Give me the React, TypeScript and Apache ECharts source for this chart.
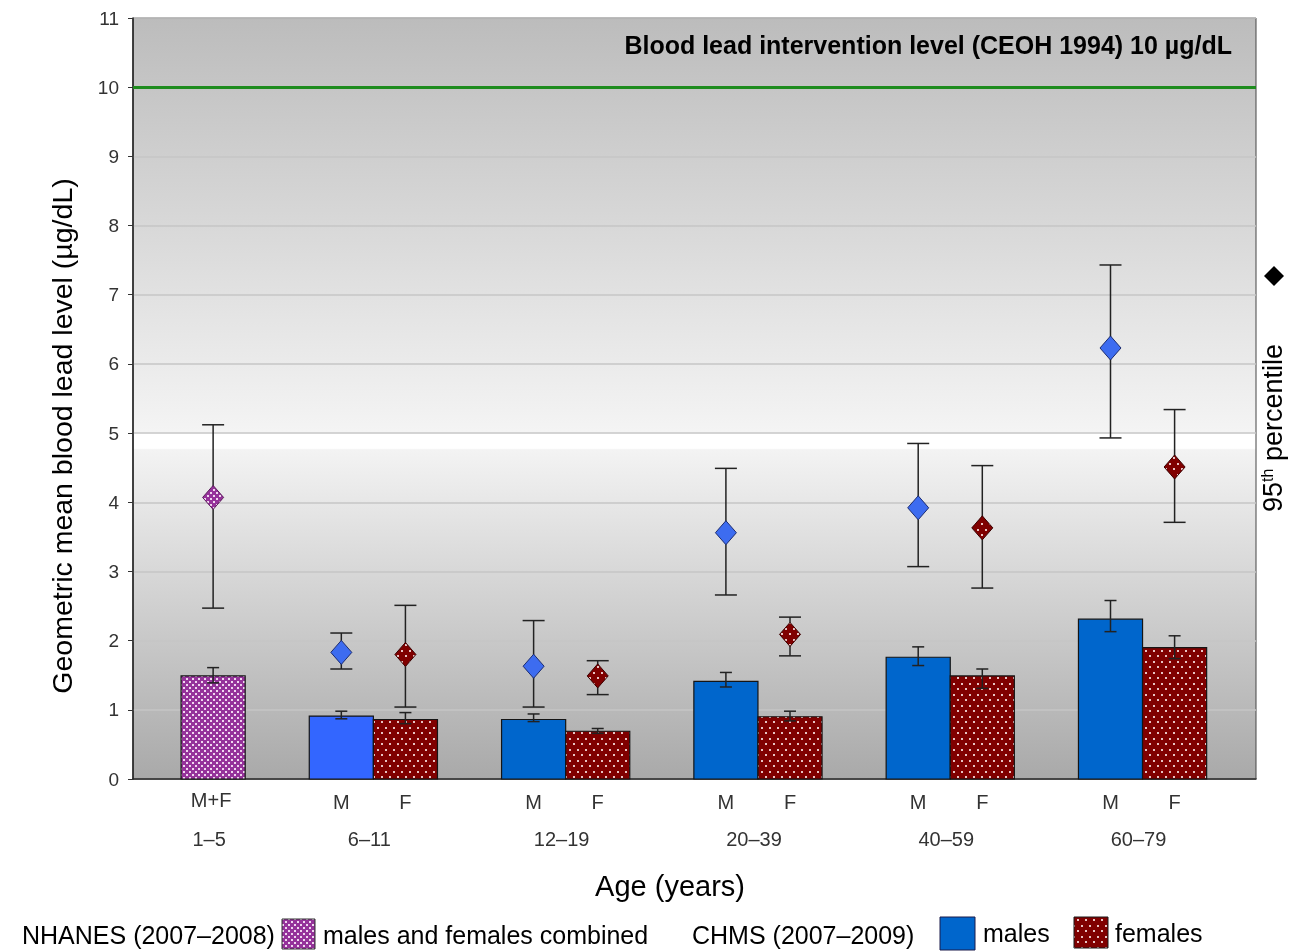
import React, { useEffect, useRef } from 'react';
import * as echarts from 'echarts';

// ---- data ----
const ageGroups = ['1–5', '6–11', '12–19', '20–39', '40–59', '60–79'];
const combinedLabel = 'M+F';
const sexLabels = ['M', 'F'];
const interventionLevel = 10;
const interventionText = 'Blood lead intervention level (CEOH 1994) 10 µg/dL';
const yTitle = 'Geometric mean blood lead level (µg/dL)';
const xTitle = 'Age (years)';

// NHANES 2007–2008, ages 1–5, males and females combined
const combinedGM = [1.49];
const combinedGMLow = [1.39];
const combinedGMHigh = [1.61];
const combinedP95 = [4.07];
const combinedP95Low = [2.47];
const combinedP95High = [5.12];

// CHMS 2007–2009, age groups 6–11 … 60–79
const maleGM = [0.91, 0.86, 1.41, 1.76, 2.31];
const maleGMLow = [0.87, 0.83, 1.33, 1.64, 2.13];
const maleGMHigh = [0.98, 0.94, 1.54, 1.91, 2.58];
const femaleGM = [0.86, 0.69, 0.9, 1.49, 1.9];
const femaleGMLow = [0.8, 0.66, 0.84, 1.31, 1.74];
const femaleGMHigh = [0.96, 0.73, 0.98, 1.59, 2.07];

const maleP95 = [1.83, 1.63, 3.56, 3.92, 6.23];
const maleP95Low = [1.59, 1.04, 2.66, 3.07, 4.93];
const maleP95High = [2.11, 2.29, 4.49, 4.85, 7.43];
const femaleP95 = [1.8, 1.49, 2.09, 3.63, 4.51];
const femaleP95Low = [1.04, 1.22, 1.78, 2.76, 3.71];
const femaleP95High = [2.51, 1.71, 2.34, 4.53, 5.34];

const FONT = '"Liberation Sans", Arial, Helvetica, sans-serif';
const SLOT = 1 / 6;

function makePattern(w: number, h: number, base: string, dots: number[][], size: number, dotColor: string) {
  const c = document.createElement('canvas');
  c.width = w;
  c.height = h;
  const ctx = c.getContext('2d')!;
  ctx.fillStyle = base;
  ctx.fillRect(0, 0, w, h);
  ctx.fillStyle = dotColor;
  dots.forEach(([x, y]) => ctx.fillRect(x, y, size, size));
  return { image: c.toDataURL(), repeat: 'repeat', imageWidth: w, imageHeight: h } as any;
}

export default function App() {
  const ref = useRef<HTMLDivElement>(null);

  useEffect(() => {
    const chart = echarts.init(ref.current!, null, { renderer: 'svg' });

    const femaleFill = makePattern(8, 11, '#800000', [[1, 1], [5, 6]], 2, '#e8c4c4');
    const combinedFill = makePattern(6, 6, '#95329a', [[0, 0], [3, 3]], 2, '#efd6ef');
    const maleFill = (i: number) => (i === 0 ? '#3366ff' : '#0066cc');

    const barRender = (fill: (i: number) => any) => (params: any, api: any) => {
      const x = api.value(0);
      const v = api.value(1);
      const lo = api.value(2);
      const hi = api.value(3);
      const tl = api.coord([x - SLOT, v]);
      const br = api.coord([x + SLOT, 0]);
      const pl = api.coord([x, lo]);
      const ph = api.coord([x, hi]);
      const cw = 6;
      const es = { stroke: '#222', lineWidth: 1.5 };
      return {
        type: 'group',
        children: [
          {
            type: 'rect',
            shape: { x: tl[0], y: tl[1], width: br[0] - tl[0], height: br[1] - tl[1] },
            style: { fill: fill(params.dataIndex), stroke: '#151515', lineWidth: 1.2 },
          },
          { type: 'line', shape: { x1: pl[0], y1: pl[1], x2: ph[0], y2: ph[1] }, style: es },
          { type: 'line', shape: { x1: pl[0] - cw, y1: pl[1], x2: pl[0] + cw, y2: pl[1] }, style: es },
          { type: 'line', shape: { x1: ph[0] - cw, y1: ph[1], x2: ph[0] + cw, y2: ph[1] }, style: es },
        ],
      };
    };

    const diamondRender = (fill: any, stroke: string) => (params: any, api: any) => {
      const x = api.value(0);
      const v = api.value(1);
      const lo = api.value(2);
      const hi = api.value(3);
      const c = api.coord([x, v]);
      const pl = api.coord([x, lo]);
      const ph = api.coord([x, hi]);
      const cw = 11;
      const w = 10.5;
      const h = 12;
      const es = { stroke: '#222', lineWidth: 1.5 };
      return {
        type: 'group',
        children: [
          { type: 'line', shape: { x1: pl[0], y1: pl[1], x2: ph[0], y2: ph[1] }, style: es },
          { type: 'line', shape: { x1: pl[0] - cw, y1: pl[1], x2: pl[0] + cw, y2: pl[1] }, style: es },
          { type: 'line', shape: { x1: ph[0] - cw, y1: ph[1], x2: ph[0] + cw, y2: ph[1] }, style: es },
          {
            type: 'polygon',
            shape: { points: [[c[0], c[1] - h], [c[0] + w, c[1]], [c[0], c[1] + h], [c[0] - w, c[1]]] },
            style: { fill, stroke, lineWidth: 1 },
          },
        ],
      };
    };

    const labelRender = (params: any, api: any) => {
      const i = params.dataIndex;
      const ts = { fontSize: 20, fontFamily: FONT, fill: '#333', align: 'center', verticalAlign: 'middle' };
      const children: any[] = [];
      if (i === 0) {
        const p = api.coord([SLOT, 0]);
        children.push({ type: 'text', x: p[0] - 2, y: p[1] + 21, style: { ...ts, text: combinedLabel } });
        children.push({ type: 'text', x: p[0] - 4, y: p[1] + 60, style: { ...ts, text: ageGroups[i] } });
      } else {
        const pm = api.coord([i - SLOT, 0]);
        const pf = api.coord([i + SLOT, 0]);
        const pc = api.coord([i, 0]);
        children.push({ type: 'text', x: pm[0], y: pm[1] + 23, style: { ...ts, text: sexLabels[0] } });
        children.push({ type: 'text', x: pf[0], y: pf[1] + 23, style: { ...ts, text: sexLabels[1] } });
        children.push({ type: 'text', x: pc[0] - 4, y: pc[1] + 60, style: { ...ts, text: ageGroups[i] } });
      }
      return { type: 'group', children };
    };

    const off = (v: number) => (11 - v) / 11;

    const combinedBarData = combinedGM.map((v, i) => [SLOT, v, combinedGMLow[i], combinedGMHigh[i]]);
    const maleBarData = maleGM.map((v, i) => [i + 1 - SLOT, v, maleGMLow[i], maleGMHigh[i]]);
    const femaleBarData = femaleGM.map((v, i) => [i + 1 + SLOT, v, femaleGMLow[i], femaleGMHigh[i]]);
    const combinedP95Data = combinedP95.map((v, i) => [SLOT, v, combinedP95Low[i], combinedP95High[i]]);
    const maleP95Data = maleP95.map((v, i) => [i + 1 - SLOT, v, maleP95Low[i], maleP95High[i]]);
    const femaleP95Data = femaleP95.map((v, i) => [i + 1 + SLOT, v, femaleP95Low[i], femaleP95High[i]]);

    const legendText = { fontSize: 25, fontFamily: FONT, fill: '#000', verticalAlign: 'middle', align: 'left' };

    const option: any = {
      animation: false,
      grid: {
        left: 133,
        right: 40,
        top: 18,
        bottom: 172,
        show: true,
        borderColor: '#444',
        borderWidth: 1,
        backgroundColor: {
          type: 'linear',
          x: 0,
          y: 0,
          x2: 0,
          y2: 1,
          colorStops: [
            { offset: 0, color: '#bcbcbc' },
            { offset: off(5.02), color: '#f4f4f4' },
            { offset: off(5.0), color: '#ffffff' },
            { offset: off(4.78), color: '#ffffff' },
            { offset: off(4.76), color: '#f3f3f3' },
            { offset: 1, color: '#a9a9a9' },
          ],
        },
      },
      xAxis: {
        type: 'value',
        min: -0.25,
        max: 5.59,
        axisLine: { show: true, onZero: false, lineStyle: { color: '#222', width: 1.5 } },
        axisTick: { show: false },
        axisLabel: { show: false },
        splitLine: { show: false },
      },
      yAxis: {
        type: 'value',
        min: 0,
        max: 11,
        interval: 1,
        axisLine: { show: true, onZero: false, lineStyle: { color: '#222', width: 1.5 } },
        axisTick: { show: true, length: 5, lineStyle: { color: '#333' } },
        axisLabel: { fontSize: 19, fontFamily: FONT, color: '#333', margin: 14 },
        splitLine: { show: true, lineStyle: { color: '#c6c6c6', width: 1.5 } },
      },
      series: [
        {
          type: 'custom',
          name: 'labels',
          data: ageGroups.map((_, i) => [i]),
          renderItem: labelRender,
          silent: true,
        },
        {
          type: 'custom',
          name: 'males and females combined',
          data: combinedBarData,
          renderItem: barRender(() => combinedFill),
        },
        {
          type: 'custom',
          name: 'males',
          data: maleBarData,
          renderItem: barRender(maleFill),
          markLine: {
            silent: true,
            symbol: 'none',
            label: { show: false },
            lineStyle: { color: '#1e8c1e', width: 3, type: 'solid' },
            data: [{ yAxis: interventionLevel }],
          },
        },
        {
          type: 'custom',
          name: 'females',
          data: femaleBarData,
          renderItem: barRender(() => femaleFill),
        },
        {
          type: 'custom',
          name: '95th combined',
          data: combinedP95Data,
          renderItem: diamondRender(combinedFill, '#5a1a5a'),
        },
        {
          type: 'custom',
          name: '95th males',
          data: maleP95Data,
          renderItem: diamondRender('#3d6cf0', '#1c2c70'),
        },
        {
          type: 'custom',
          name: '95th females',
          data: femaleP95Data,
          renderItem: diamondRender(femaleFill, '#3a0000'),
        },
      ],
      graphic: [
        {
          type: 'text',
          right: 64,
          top: 32,
          style: { text: interventionText, fontSize: 25, fontWeight: 'bold', fontFamily: FONT, fill: '#000' },
        },
        {
          type: 'text',
          x: 62,
          y: 436,
          rotation: Math.PI / 2,
          style: { text: yTitle, fontSize: 28.5, fontFamily: FONT, fill: '#000', align: 'center', verticalAlign: 'middle' },
        },
        {
          type: 'text',
          x: 670,
          y: 886,
          style: { text: xTitle, fontSize: 29, fontFamily: FONT, fill: '#000', align: 'center', verticalAlign: 'middle' },
        },
        {
          type: 'polygon',
          shape: { points: [[1274, 266], [1284, 276], [1274, 286], [1264, 276]] },
          style: { fill: '#000' },
        },
        {
          type: 'text',
          x: 1273,
          y: 428,
          rotation: Math.PI / 2,
          style: {
            text: '{n|95}{s|th}{n| percentile}',
            align: 'center',
            verticalAlign: 'middle',
            fill: '#000',
            rich: {
              n: { fontSize: 27, fontFamily: FONT, fill: '#000', verticalAlign: 'bottom' },
              s: { fontSize: 16, fontFamily: FONT, fill: '#000', verticalAlign: 'top' },
            },
          },
        },
        { type: 'text', x: 22, y: 935, style: { ...legendText, text: 'NHANES (2007–2008)' } },
        {
          type: 'rect',
          shape: { x: 282, y: 919, width: 33, height: 30 },
          style: { fill: combinedFill, stroke: '#333', lineWidth: 1 },
        },
        { type: 'text', x: 323, y: 935, style: { ...legendText, text: 'males and females combined' } },
        { type: 'text', x: 692, y: 935, style: { ...legendText, text: 'CHMS (2007–2009)' } },
        {
          type: 'rect',
          shape: { x: 940, y: 917, width: 35, height: 33 },
          style: { fill: '#0066cc', stroke: '#1a1a4a', lineWidth: 1 },
        },
        { type: 'text', x: 983, y: 933, style: { ...legendText, text: 'males' } },
        {
          type: 'rect',
          shape: { x: 1074, y: 917, width: 34, height: 31 },
          style: { fill: femaleFill, stroke: '#1a1a1a', lineWidth: 1 },
        },
        { type: 'text', x: 1115, y: 933, style: { ...legendText, text: 'females' } },
      ],
    };

    chart.setOption(option);
    return () => chart.dispose();
  }, []);

  return <div ref={ref} style={{ position: 'fixed', left: 0, top: 0, width: 1296, height: 951 }} />;
}
